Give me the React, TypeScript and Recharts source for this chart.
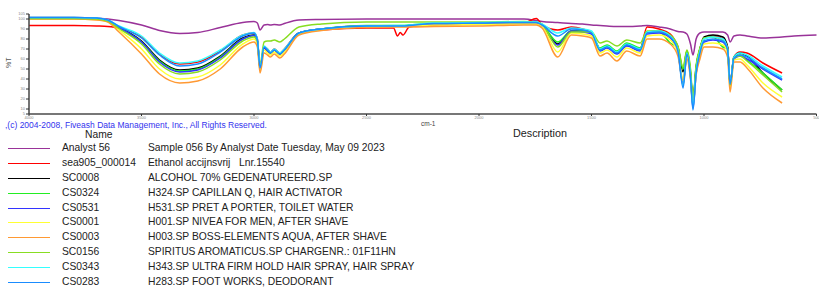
import React from "react";
import { LineChart, Line, XAxis, YAxis } from "recharts";

// wavenumbers (cm-1), descending
const wavenumbers = [
  4000, 3800, 3700, 3650, 3600, 3500, 3420, 3330, 3250, 3150, 3050, 3000,
  2985, 2973, 2955, 2940, 2927, 2910, 2885, 2865, 2800, 2700, 2500,
  2380, 2362, 2350, 2338, 2310,
  2200, 2000, 1800, 1745, 1720,
  1650, 1590, 1540, 1500,
  1462, 1431, 1387, 1343, 1284, 1253,
  1200, 1150, 1116, 1093, 1076, 1060, 1049, 1035, 1018, 1000,
  960, 916, 895, 884, 867, 840, 809, 738, 653, 600, 500,
];

const analyst56 = [
  101.5, 101.5, 101, 100, 98.5, 94, 88.5, 85.5, 86.5, 91.5, 96.5, 97.5,
  96, 89, 94, 94.5, 94, 94.5, 94, 95.5, 99, 99.5, 100,
  100, 100, 100, 100, 100,
  100, 100, 100, 98.5, 97.5,
  96.5, 95.5, 95, 94,
  93.5, 93, 92.5, 92.5, 93, 93.5,
  92, 90, 87.5, 87, 85, 75, 64, 80, 86, 87,
  87, 87, 84, 77, 83, 84, 83, 81, 82, 83, 84,
];
const sea905 = [
  93.5, 93.5, 93, 92.5, 91, 82, 65, 55, 57, 68, 84, 86,
  80, 51, 72, 70, 67, 70, 66, 70, 86, 89, 91,
  91, 83, 86.5, 84, 92,
  94, 95, 96, 100.5, 94,
  89, 92, 90, 86,
  70, 73, 66, 74, 70, 92,
  90, 85, 70, 34, 66, 44, 15, 50, 70, 80,
  83, 80, 71, 36, 62, 67, 66, 56, 46, null, null,
];
const sc0008 = [
  101, 101, 100.5, 98.5, 92, 78, 59, 49, 51, 63, 81, 84,
  78, 50, 71, 68, 66, 69, 65, 69, 86, 90, 93,
  93, 93, 93, 93, 93.5,
  95, 96, 96, 96, 94,
  75, 88, 88, 86,
  70, 73, 67, 75, 70, 87,
  88, 83, 72, 47, 68, 46, 19, 52, 70, 82,
  84, 82, 72, 34, 62, 66, 63, 46, 29, null, null,
];
const cs0324 = [
  100.5, 100.5, 100, 98, 91, 77, 58, 48, 50, 62, 80, 83.5,
  78, 51, 72, 69, 66, 69, 66, 69, 86, 90, 93.5,
  93.5, 93.5, 93.5, 93.5, 94,
  95.5, 96, 96.5, 96, 94,
  77, 88, 88, 86,
  71, 74, 68, 76, 71, 87,
  87, 76, 71, 50, 68, 48, 17, 52, 70, 81,
  82, 72, 70, 35, 62, 64, 59, 46, 29, null, null,
];
const cs0531 = [
  101, 101, 100.5, 98.5, 91.5, 77, 57, 47, 49, 61, 80, 83.5,
  78, 50, 71, 68, 66, 69, 65, 69, 86, 90, 93,
  93, 93, 93, 93, 93.5,
  95, 95.5, 96, 96, 93,
  74, 88, 87, 85,
  68, 71, 65, 73, 68, 85,
  86, 81, 67, 36, 64, 43, 11, 46, 65, 77,
  79, 77, 68, 35, 60, 63, 60, 50, 39, null, null,
];
const cs0001 = [
  100, 100, 99.5, 97.5, 89, 70, 50, 40, 42, 54, 75, 80,
  75, 48, 69, 66, 64, 67, 63, 67, 85, 89, 92,
  92.5, 92.5, 92.5, 92.5, 93,
  94, 94.5, 95, 95, 93,
  67, 86, 85, 83,
  66, 69, 62, 71, 66, 83,
  84, 79, 66, 40, 62, 42, 16, 46, 63, 75,
  76, 74, 66, 31, 59, 60, 54, 36, 22, null, null,
];
const cs0003 = [
  100, 100, 99, 97, 87, 65, 45, 36, 38, 50, 72, 77,
  72, 46, 66, 64, 62, 65, 61, 65, 84, 88.5, 91.5,
  92, 92, 92, 92, 92,
  92.5, 93, 94, 94, 91,
  62, 84, 83, 81,
  63, 66, 58, 68, 63, 80,
  80, 75, 63, 38, 60, 40, 14, 44, 60, 72,
  72, 70, 62, 27, 57, 57, 51, 31, 16, null, null,
];
const sc0156 = [
  100.5, 100.5, 100, 98, 90.5, 75, 55, 45, 47, 59, 78, 82,
  78, 55, 77, 78, 78, 79, 77, 80, 92, 95, 97,
  97, 97, 97, 97, 97,
  97, 97, 97.5, 97, 95,
  72, 87, 87, 87,
  76, 78, 73, 79, 76, 88,
  88, 84, 73, 52, 69, 50, 20, 54, 71, 81,
  82, 79, 70, 34, 61, 63, 58, 44, 27, null, null,
];
const cs0343 = [
  101.5, 101.5, 101, 99, 93, 83, 66, 56, 58, 69, 84, 86.5,
  80, 52, 73, 70, 67, 70, 66, 70, 86, 90, 93,
  93.5, 93.5, 93.5, 93.5, 94,
  96, 96.5, 97, 97, 95,
  86, 91, 90, 88,
  70, 73, 67, 75, 70, 87,
  88, 83, 69, 33, 66, 44, 12, 48, 68, 80,
  82, 80, 70, 36, 62, 66, 64, 53, 42, null, null,
];
const cs0283 = [
  101.5, 101.5, 101, 99, 92.5, 81, 64, 53, 55, 67, 83, 86,
  79, 51, 72, 69, 66, 69, 65, 69, 86, 90, 93,
  93, 93, 93, 93, 93.5,
  95.5, 96, 96.5, 96.5, 94,
  83, 90, 89, 86,
  69, 72, 66, 74, 69, 86,
  87, 82, 68, 31, 65, 42, 9, 46, 66, 78,
  80, 78, 69, 35, 61, 64, 62, 51, 40, null, null,
];

const names = ["Analyst 56", "sea905_000014", "SC0008", "CS0324", "CS0531", "CS0001", "CS0003", "SC0156", "CS0343", "CS0283"];
const descriptions = [
  "Sample 056 By Analyst Date Tuesday, May 09 2023",
  "Ethanol accijnsvrij   Lnr.15540",
  "ALCOHOL 70% GEDENATUREERD.SP",
  "H324.SP CAPILLAN Q, HAIR ACTIVATOR",
  "H531.SP PRET A PORTER, TOILET WATER",
  "H001.SP NIVEA FOR MEN, AFTER SHAVE",
  "H003.SP BOSS-ELEMENTS AQUA, AFTER SHAVE",
  "SPIRITUS AROMATICUS.SP CHARGENR.: 01F11HN",
  "H343.SP ULTRA FIRM HOLD HAIR SPRAY, HAIR SPRAY",
  "H283.SP FOOT WORKS, DEODORANT",
];
const colors = ["#993399", "#ff0000", "#000000", "#22ee22", "#3333ff", "#ffff33", "#ff9933", "#88dd22", "#33ffff", "#1a8cff"];
const values = [analyst56, sea905, sc0008, cs0324, cs0531, cs0001, cs0003, sc0156, cs0343, cs0283];

const xTicks = [500, 1000, 1500, 2000, 2500, 3000, 3500, 4000];
const yTicks = [5, 10, 20, 30, 40, 50, 60, 70, 80, 90, 100, 105];

const series = names.map((name, i) => ({ key: `s${i}`, name, desc: descriptions[i], color: colors[i], values: values[i] }));

const data = wavenumbers.map((w, i) => {
  const row: Record<string, number | null> = { w };
  series.forEach(s => { row[s.key] = s.values[i]; });
  return row;
});

export default function App() {
  return (
    <div style={{ position: "relative", width: 819, height: 289, overflow: "hidden", background: "#fff",
      fontFamily: "Arial, 'Liberation Sans', sans-serif" }}>
      <style>{`body{margin:0}`}</style>
      <div style={{ position: "absolute", left: 0, top: 0 }}>
        <LineChart width={819} height={122} data={data} margin={{ top: 14, right: 2.5, bottom: 0, left: 0 }}>
          <XAxis type="number" dataKey="w" domain={[500, 4000]} reversed ticks={xTicks} interval={0}
            height={8} tickSize={2} tickMargin={0} tick={{ fontSize: 4, fill: "#888" }}
            axisLine={{ stroke: "#777", strokeWidth: 2 }} tickLine={{ stroke: "#333" }} />
          <YAxis type="number" domain={[5, 105]} ticks={yTicks} interval={0} width={29}
            tickSize={3} tickMargin={1} tick={{ fontSize: 4, fill: "#888" }}
            axisLine={{ stroke: "#444", strokeWidth: 1.5 }} tickLine={{ stroke: "#333" }}
            label={{ value: "%T", angle: -90, position: "insideLeft", offset: 9, dy: 4, fontSize: 7, fill: "#555" }} />
          {series.map(s => (
            <Line key={s.key} dataKey={s.key} type="monotone" stroke={s.color} strokeWidth={1.5}
              dot={false} connectNulls={false} isAnimationActive={false} />
          ))}
        </LineChart>
      </div>
      <div style={{ position: "absolute", left: 421, top: 120, fontSize: 6.5, lineHeight: "8px", color: "#444" }}>cm-1</div>
      <div style={{ position: "absolute", left: 5, top: 122, fontSize: 8.5, lineHeight: "7.5px", color: "#3333ee", whiteSpace: "nowrap" }}>
        ,(c) 2004-2008, Fiveash Data Management, Inc., All Rights Reserved.
      </div>
      <div style={{ position: "absolute", left: 85, top: 129.5, fontSize: 10.3, lineHeight: "9px", color: "#222" }}>Name</div>
      <div style={{ position: "absolute", left: 513, top: 128.5, fontSize: 10.8, lineHeight: "9px", color: "#222" }}>Description</div>
      {series.map((s, i) => {
        const cy = Math.round(148.3 + i * 14.8);
        return (
          <React.Fragment key={s.key}>
            <div style={{ position: "absolute", left: 8, top: cy, width: 42, height: 1, background: s.color }} />
            <div style={{ position: "absolute", left: 62, top: cy - 6, fontSize: 10.3, lineHeight: "12px", color: "#222", whiteSpace: "nowrap" }}>{s.name}</div>
            <div style={{ position: "absolute", left: 148, top: cy - 6, fontSize: 10.3, lineHeight: "12px", color: "#222", whiteSpace: "pre" }}>{s.desc}</div>
          </React.Fragment>
        );
      })}
    </div>
  );
}
